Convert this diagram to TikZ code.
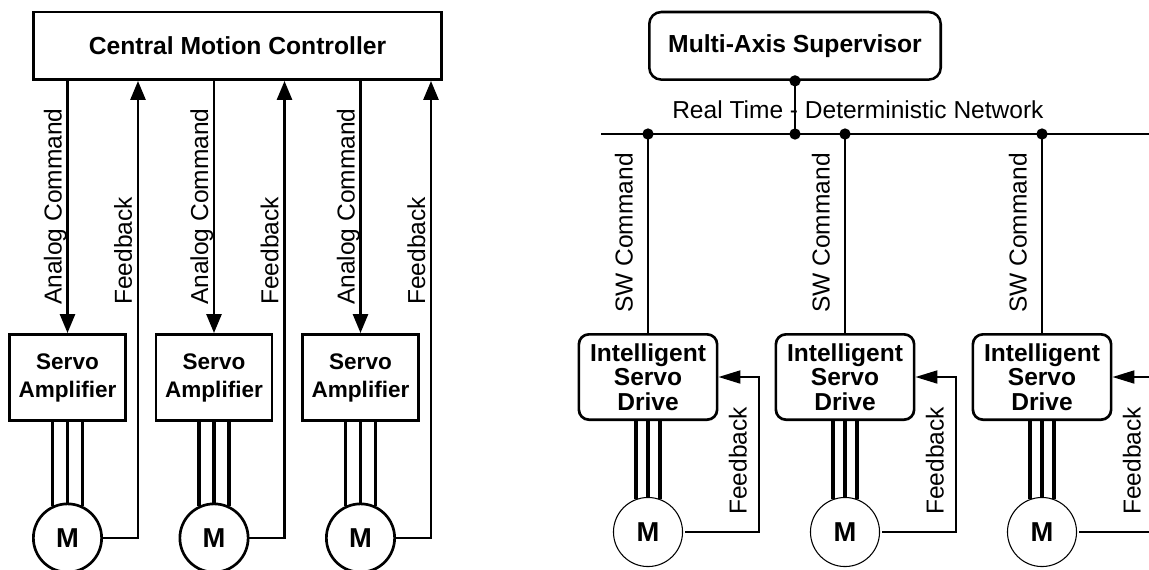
\documentclass[tikz,border=0pt]{standalone}
\usepackage{fontspec}
\setmainfont{Liberation Sans}
\usetikzlibrary{arrows.meta}

\begin{document}
\begin{tikzpicture}[x=0.75pt,y=-0.75pt,
  every node/.style={inner sep=0pt},
  ctrlbox/.style={draw, line width=2pt, minimum width=306.2pt, minimum height=50.7pt,
    font=\fontsize{18.5}{18.5}\selectfont\bfseries},
  ampbox/.style={draw, line width=2pt, minimum width=87.2pt, minimum height=64.7pt,
    align=center, font=\fontsize{16.9}{21}\selectfont\bfseries},
  supbox/.style={draw, line width=1.9pt, rounded corners=9pt, minimum width=218.6pt,
    minimum height=50.7pt, font=\fontsize{18.5}{18.5}\selectfont\bfseries},
  drvbox/.style={draw, line width=2pt, rounded corners=7.5pt, minimum width=103.7pt,
    minimum height=64pt, align=center, font=\fontsize{18.4}{18.4}\selectfont\bfseries},
  motorL/.style={draw, circle, line width=2pt, minimum size=51.2pt,
    font=\fontsize{20.5}{20.5}\selectfont\bfseries},
  motorR/.style={draw, circle, line width=0.8pt, minimum size=51.8pt,
    font=\fontsize{20.5}{20.5}\selectfont\bfseries},
  lab/.style={font=\fontsize{18.4}{18.4}\selectfont},
  vlab/.style={lab, rotate=90, anchor=south west},
  dot/.style={circle, fill, minimum size=8.5pt},
  sig/.style={line width=2pt},
  sigarrow/.style={sig, -{Triangle[length=14.25pt,width=11.25pt]}},
  phase/.style={line width=2.4pt},
  net/.style={line width=1.6pt},
  fbarrow/.style={line width=1.5pt, shorten <=1.5pt, -{Triangle[length=16.5pt,width=9.75pt]}}
]
\useasboundingbox (0,0) rectangle (1149,569);
\clip (0,0) rectangle (1149,569);

% ---------- centralised architecture ----------
\node[ctrlbox] (ctrl) at (237.5,45.8) {Central Motion Controller};

\foreach \i/\cx in {1/67.5, 2/214, 3/360.5} {
  \node[ampbox] (amp\i) at (\cx,377.5) {Servo\\Amplifier};
  \node[motorL] (motL\i) at (\cx,538) {M};
  \coordinate (fbL\i) at (\cx+70.5,538);
  \draw[sigarrow] (ctrl.south -| amp\i.north) -- (amp\i.north);
  \draw[sigarrow] (motL\i.east) -- (fbL\i) -- (fbL\i |- ctrl.south);
  \foreach \a in {115,90,65}
    \draw[phase] (motL\i.\a) -- (motL\i.\a |- amp\i.south);
  \node[vlab] (acmd\i) at (\cx-0.5,305) {Analog Command};
  \node[vlab] (afb\i) at (\cx+65,305) {Feedback};
}

% ---------- networked architecture ----------
\node[supbox] (sup) at (795,45.8) {Multi-Axis Supervisor};
\coordinate (busL) at (601,134);
\coordinate (busR) at (1149,134);
\draw[net] (busL) -- (busR);
\node[dot] (supdot) at (sup.south) {};
\node[dot] (busdot) at (795,134) {};
\draw[net] (supdot.center) -- (busdot.center);
\node[lab, anchor=base west] (netlab) at (672,118) {Real Time - Deterministic Network};

\foreach \i/\cx in {1/648, 2/845, 3/1042} {
  \node[dot] (tap\i) at (\cx,134) {};
  \node[drvbox] (drv\i) at (\cx,377) {Intelligent\\Servo\\Drive};
  \node[motorR] (motR\i) at (\cx,532) {M};
  \coordinate (fbR\i) at (\cx+111,532);
  \draw[net] (tap\i.center) -- (drv\i.north);
  \draw[fbarrow] (motR\i.east) -- (fbR\i) |- (drv\i.east);
  \foreach \a in {110,90,70}
    \draw[phase] (motR\i.\a) -- (motR\i.\a |- drv\i.south);
  \node[vlab] (swc\i) at (\cx-15,313) {SW Command};
  \node[vlab] (rfb\i) at (\cx+99,515) {Feedback};
}
\end{tikzpicture}
\end{document}
